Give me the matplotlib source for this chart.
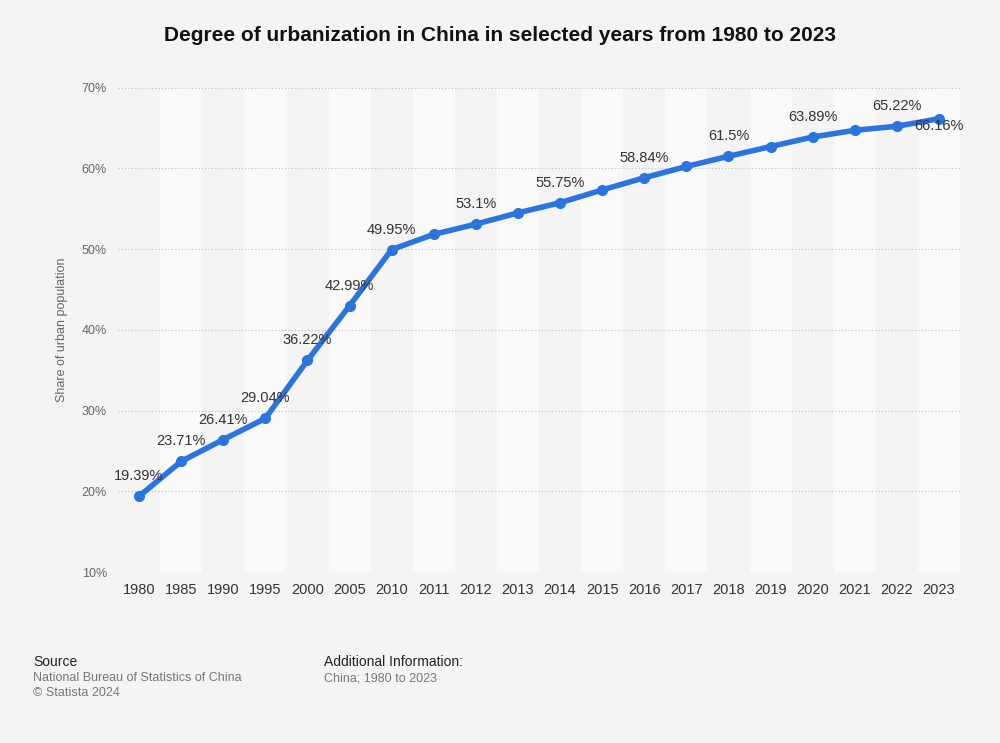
import numpy as np
import matplotlib.pyplot as plt

plt.rcParams['font.family'] = ['Liberation Sans', 'DejaVu Sans']

years = ['1980', '1985', '1990', '1995', '2000', '2005', '2010', '2011', '2012', '2013',
         '2014', '2015', '2016', '2017', '2018', '2019', '2020', '2021', '2022', '2023']
share = [19.39, 23.71, 26.41, 29.04, 36.22, 42.99, 49.95, 51.83, 53.1, 54.49,
         55.75, 57.33, 58.84, 60.24, 61.5, 62.71, 63.89, 64.72, 65.22, 66.16]
labelled = ['1980', '1985', '1990', '1995', '2000', '2005', '2010', '2012', '2014',
            '2016', '2018', '2020', '2022', '2023']

fig = plt.figure(figsize=(10, 7.43), dpi=100, facecolor='#f4f4f4')
ax = fig.add_axes([0.118, 0.23, 0.842, 0.652])
ax.set_facecolor('#f4f4f4')
x = np.arange(len(years))

# alternating column bands
for i in x:
    ax.axvspan(i - 0.5, i + 0.5, color='#fafafa' if i % 2 else '#f4f4f4', zorder=0, lw=0)

ax.plot(x, share, color='#2a74e0', lw=4, marker='o', ms=7, zorder=3,
        solid_capstyle='round')
for i, (yr, v) in enumerate(zip(years, share)):
    if yr in labelled:
        txt = f'{v:g}%'
        if yr == '2023':
            ax.text(i, v - 0.9, txt, ha='center', va='center', fontsize=10.5, color='#333333', zorder=4)
        else:
            ax.text(i, v + 1.6, txt, ha='center', va='bottom', fontsize=10.5, color='#333333', zorder=4)

ax.set_xlim(-0.5, len(years) - 0.5)
ax.set_ylim(10, 70)
ax.set_yticks(range(10, 71, 10))
ax.set_yticklabels([f'{t}%' for t in range(10, 71, 10)], fontsize=9, color='#666666')
ax.set_xticks(x)
ax.set_xticklabels(years, fontsize=10.5, color='#333333')
ax.yaxis.grid(True, ls=(0, (1, 2)), color='#bbbbbb', lw=0.8)
ax.set_axisbelow(False)
ax.tick_params(length=0, pad=8)
for s in ax.spines.values():
    s.set_visible(False)
ax.set_ylabel('Share of urban population', fontsize=9, color='#666666', labelpad=10)

fig.text(0.5, 0.952, 'Degree of urbanization in China in selected years from 1980 to 2023',
         ha='center', va='center', fontsize=15, fontweight='bold', color='#111111')
fig.text(0.033, 0.104, 'Source', fontsize=10, color='#222222')
fig.text(0.033, 0.083, 'National Bureau of Statistics of China', fontsize=9, color='#777777')
fig.text(0.033, 0.063, '© Statista 2024', fontsize=9, color='#777777')
fig.text(0.324, 0.104, 'Additional Information:', fontsize=10, color='#222222')
fig.text(0.324, 0.083, 'China; 1980 to 2023', fontsize=9, color='#777777')

fig.savefig('out.png', dpi=100, facecolor=fig.get_facecolor())
